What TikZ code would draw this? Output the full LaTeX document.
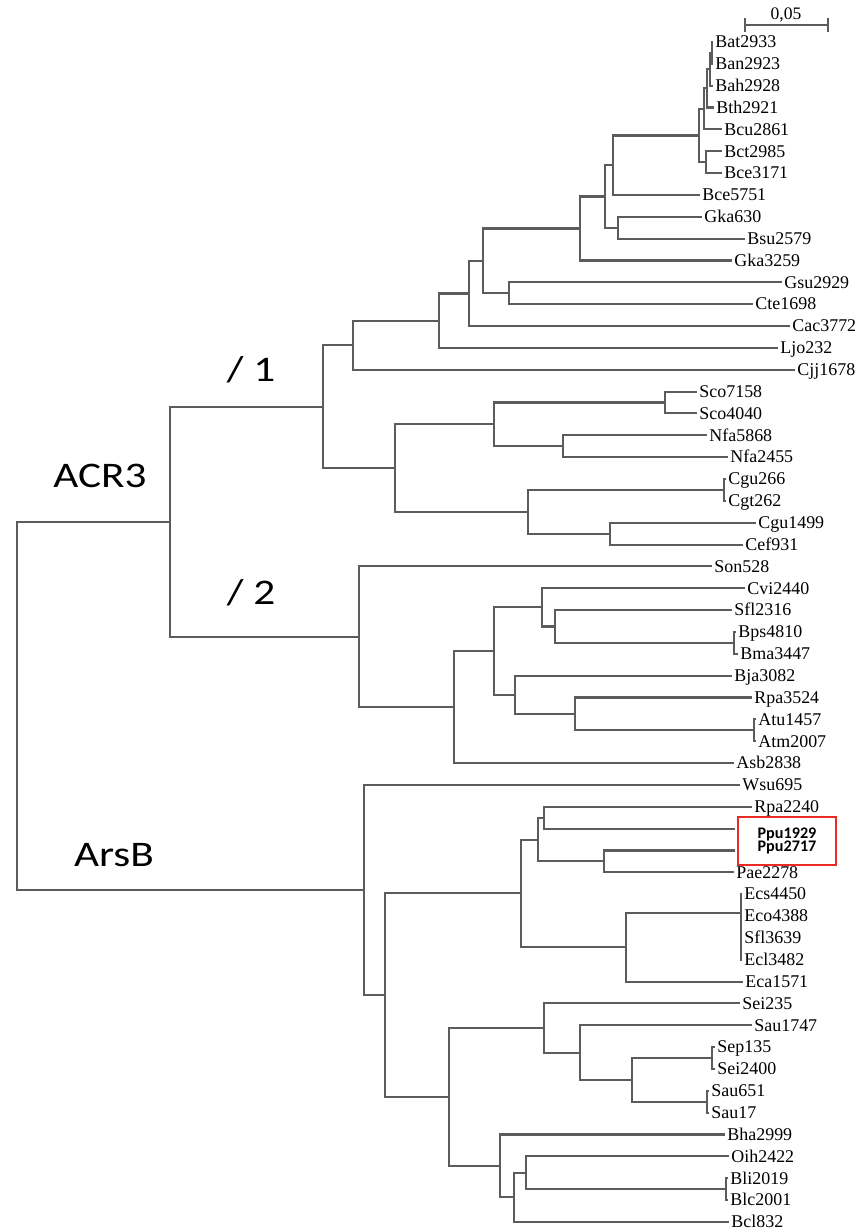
\documentclass[tikz,border=0pt]{standalone}
\usepackage{fontspec}
\setmainfont{Liberation Serif}
\newfontfamily\cladefont[FakeStretch=1.2]{Carlito}
\newfontfamily\boxfont{Carlito}
\definecolor{boxred}{RGB}{232,43,36}

\begin{document}
\begin{tikzpicture}[x=0.2mm, y=-0.2mm,
    branch/.style={draw=black!64, line width=0.42mm},
    leaf/.style={anchor=west, inner sep=1.2pt, text height=6.6pt, text depth=0pt, font=\fontsize{10.2}{12}\selectfont},
    clade/.style={anchor=base, inner sep=0pt, font=\cladefont\fontsize{20.5}{24}\selectfont}]
\useasboundingbox (0,0) rectangle (857,1229);

% scale bar
\coordinate (sbl) at (745,25);
\coordinate (sbr) at (828,25);
\draw[branch] (sbl) -- (sbr);
\draw[branch] (sbl) ++(0,-7) -- ++(0,14);
\draw[branch] (sbr) ++(0,-7) -- ++(0,14);
\node[anchor=base, font=\fontsize{10}{12}\selectfont] (sblabel) at (786,20) {0,05};

% leaves
\node[leaf] (Bat2933) at (713,42.0) {Bat2933};
\node[leaf] (Ban2923) at (713,63.85) {Ban2923};
\node[leaf] (Bah2928) at (713,85.7) {Bah2928};
\node[leaf] (Bth2921) at (714,107.55) {Bth2921};
\node[leaf] (Bcu2861) at (722,129.4) {Bcu2861};
\node[leaf] (Bct2985) at (722,151.25) {Bct2985};
\node[leaf] (Bce3171) at (722,173.1) {Bce3171};
\node[leaf] (Bce5751) at (700,194.95) {Bce5751};
\node[leaf] (Gka630) at (702,216.8) {Gka630};
\node[leaf] (Bsu2579) at (745,238.65) {Bsu2579};
\node[leaf] (Gka3259) at (732,260.5) {Gka3259};
\node[leaf] (Gsu2929) at (782,282.35) {Gsu2929};
\node[leaf] (Cte1698) at (753,304.2) {Cte1698};
\node[leaf] (Cac3772) at (790,326.05) {Cac3772};
\node[leaf] (Ljo232) at (778,347.9) {Ljo232};
\node[leaf] (Cjj1678) at (795,369.75) {Cjj1678};
\node[leaf] (Sco7158) at (697,391.6) {Sco7158};
\node[leaf] (Sco4040) at (697,413.45) {Sco4040};
\node[leaf] (Nfa5868) at (707,435.3) {Nfa5868};
\node[leaf] (Nfa2455) at (728,457.15) {Nfa2455};
\node[leaf] (Cgu266) at (726,479.0) {Cgu266};
\node[leaf] (Cgt262) at (726,500.85) {Cgt262};
\node[leaf] (Cgu1499) at (756,522.7) {Cgu1499};
\node[leaf] (Cef931) at (743,544.55) {Cef931};
\node[leaf] (Son528) at (712,566.4) {Son528};
\node[leaf] (Cvi2440) at (745,588.25) {Cvi2440};
\node[leaf] (Sfl2316) at (732,610.1) {Sfl2316};
\node[leaf] (Bps4810) at (736,631.95) {Bps4810};
\node[leaf] (Bma3447) at (738,653.8) {Bma3447};
\node[leaf] (Bja3082) at (732,675.65) {Bja3082};
\node[leaf] (Rpa3524) at (752,697.5) {Rpa3524};
\node[leaf] (Atu1457) at (756,719.35) {Atu1457};
\node[leaf] (Atm2007) at (756,741.2) {Atm2007};
\node[leaf] (Asb2838) at (734,763.05) {Asb2838};
\node[leaf] (Wsu695) at (740,784.9) {Wsu695};
\node[leaf] (Rpa2240) at (752,806.75) {Rpa2240};
\node[leaf] (Pae2278) at (734,872.3) {Pae2278};
\node[leaf] (Ecs4450) at (742,894.15) {Ecs4450};
\node[leaf] (Eco4388) at (742,916.0) {Eco4388};
\node[leaf] (Sfl3639) at (742,937.85) {Sfl3639};
\node[leaf] (Ecl3482) at (742,959.7) {Ecl3482};
\node[leaf] (Eca1571) at (743,981.55) {Eca1571};
\node[leaf] (Sei235) at (740,1003.4) {Sei235};
\node[leaf] (Sau1747) at (752,1025.25) {Sau1747};
\node[leaf] (Sep135) at (715,1047.1) {Sep135};
\node[leaf] (Sei2400) at (715,1068.95) {Sei2400};
\node[leaf] (Sau651) at (709,1090.8) {Sau651};
\node[leaf] (Sau17) at (709,1112.65) {Sau17};
\node[leaf] (Bha2999) at (725,1134.5) {Bha2999};
\node[leaf] (Oih2422) at (729,1156.35) {Oih2422};
\node[leaf] (Bli2019) at (728,1178.2) {Bli2019};
\node[leaf] (Blc2001) at (728,1200.05) {Blc2001};
\node[leaf] (Bcl832) at (729,1221.9) {Bcl832};

% the two Ppu genes, boxed
\node[draw=boxred, line width=0.45mm, minimum width=19.7mm, minimum height=9.6mm, align=center,
      font=\boxfont\bfseries\fontsize{9.2}{7.8}\selectfont] (ppu) at (787,841) {Ppu1929\\Ppu2717};
\coordinate (ppu1929) at (735,828.6);
\coordinate (ppu2717) at (735,850.45);

% inner nodes
\coordinate (bc1) at (712,52.9);
\coordinate (bc2) at (710,69.3);
\coordinate (bc3) at (707,88.4);
\coordinate (bc4) at (704,108.9);
\coordinate (bc5) at (706,162.2);
\coordinate (bc6) at (699,135.55);
\coordinate (bc7) at (613,165.25);
\coordinate (gb) at (618,227.7);
\coordinate (bc8) at (605,196.5);
\coordinate (bc9) at (580,228.5);
\coordinate (gc) at (509,293.3);
\coordinate (f1) at (483,260.9);
\coordinate (f2) at (469,293.5);
\coordinate (f3) at (439,320.7);
\coordinate (f4) at (353,345.2);
\coordinate (sco) at (665,402.5);
\coordinate (nfa) at (563,446.2);
\coordinate (act1) at (494,424.35);
\coordinate (cgu) at (724,489.9);
\coordinate (cc) at (610,533.6);
\coordinate (act2) at (528,511.75);
\coordinate (act) at (395,468.05);
\coordinate (grp1) at (323,406.6);
\coordinate (bps) at (734,642.9);
\coordinate (sfl) at (555,626.5);
\coordinate (cvi) at (542,607.4);
\coordinate (atu) at (754,730.3);
\coordinate (rpa) at (575,713.9);
\coordinate (bja) at (515,694.8);
\coordinate (pro1) at (494,651.1);
\coordinate (pro2) at (454,707.1);
\coordinate (grp2) at (359,636.75);
\coordinate (acr) at (170,521.7);
\coordinate (rp) at (544,817.7);
\coordinate (pp) at (604,861.4);
\coordinate (ps) at (538,839.55);
\coordinate (ec) at (741,913);
\coordinate (ent) at (626,947.3);
\coordinate (gam) at (521,893.4);
\coordinate (sep) at (712,1058);
\coordinate (sau) at (707,1101.7);
\coordinate (sta1) at (632,1079.85);
\coordinate (sta2) at (580,1052.55);
\coordinate (sta) at (544,1028);
\coordinate (bli) at (726,1189.1);
\coordinate (oih) at (526,1172.7);
\coordinate (bcl) at (514,1197.3);
\coordinate (bac) at (500,1165.9);
\coordinate (firm) at (449,1096.95);
\coordinate (ars1) at (385,995.2);
\coordinate (ars) at (364,890.05);
\coordinate (root) at (17,705.9);

% branches
\draw[branch] (root) |- (acr) (root) |- (ars);
\draw[branch] (acr) |- (grp1) (acr) |- (grp2);
\draw[branch] (grp1) |- (f4) (grp1) |- (act);
\draw[branch] (f4) |- (f3) (f4) |- (Cjj1678.west);
\draw[branch] (f3) |- (f2) (f3) |- (Ljo232.west);
\draw[branch] (f2) |- (f1) (f2) |- (Cac3772.west);
\draw[branch] (f1) |- (bc9) (f1) |- (gc);
\draw[branch] (gc) |- (Gsu2929.west) (gc) |- (Cte1698.west);
\draw[branch] (bc9) |- (bc8) (bc9) |- (Gka3259.west);
\draw[branch] (bc8) |- (bc7) (bc8) |- (gb);
\draw[branch] (gb) |- (Gka630.west) (gb) |- (Bsu2579.west);
\draw[branch] (bc7) |- (bc6) (bc7) |- (Bce5751.west);
\draw[branch] (bc6) |- (bc4) (bc6) |- (bc5);
\draw[branch] (bc5) |- (Bct2985.west) (bc5) |- (Bce3171.west);
\draw[branch] (bc4) |- (bc3) (bc4) |- (Bcu2861.west);
\draw[branch] (bc3) |- (bc2) (bc3) |- (Bth2921.west);
\draw[branch] (bc2) |- (bc1) (bc2) |- (Bah2928.west);
\draw[branch] (bc1) |- (Bat2933.west) (bc1) |- (Ban2923.west);
\draw[branch] (act) |- (act1) (act) |- (act2);
\draw[branch] (act1) |- (sco) (act1) |- (nfa);
\draw[branch] (sco) |- (Sco7158.west) (sco) |- (Sco4040.west);
\draw[branch] (nfa) |- (Nfa5868.west) (nfa) |- (Nfa2455.west);
\draw[branch] (act2) |- (cgu) (act2) |- (cc);
\draw[branch] (cgu) |- (Cgu266.west) (cgu) |- (Cgt262.west);
\draw[branch] (cc) |- (Cgu1499.west) (cc) |- (Cef931.west);
\draw[branch] (grp2) |- (Son528.west) (grp2) |- (pro2);
\draw[branch] (pro2) |- (pro1) (pro2) |- (Asb2838.west);
\draw[branch] (pro1) |- (cvi) (pro1) |- (bja);
\draw[branch] (cvi) |- (Cvi2440.west) (cvi) |- (sfl);
\draw[branch] (sfl) |- (Sfl2316.west) (sfl) |- (bps);
\draw[branch] (bps) |- (Bps4810.west) (bps) |- (Bma3447.west);
\draw[branch] (bja) |- (Bja3082.west) (bja) |- (rpa);
\draw[branch] (rpa) |- (Rpa3524.west) (rpa) |- (atu);
\draw[branch] (atu) |- (Atu1457.west) (atu) |- (Atm2007.west);
\draw[branch] (ars) |- (Wsu695.west) (ars) |- (ars1);
\draw[branch] (ars1) |- (gam) (ars1) |- (firm);
\draw[branch] (gam) |- (ps) (gam) |- (ent);
\draw[branch] (ps) |- (rp) (ps) |- (pp);
\draw[branch] (rp) |- (Rpa2240.west) (rp) |- (ppu1929);
\draw[branch] (pp) |- (ppu2717) (pp) |- (Pae2278.west);
\draw[branch] (ent) |- (ec) (ent) |- (Eca1571.west);
\draw[branch] (ec) |- (Ecs4450.west) (ec) |- (Eco4388.west) (ec) |- (Sfl3639.west) (ec) |- (Ecl3482.west);
\draw[branch] (firm) |- (sta) (firm) |- (bac);
\draw[branch] (sta) |- (Sei235.west) (sta) |- (sta2);
\draw[branch] (sta2) |- (Sau1747.west) (sta2) |- (sta1);
\draw[branch] (sta1) |- (sep) (sta1) |- (sau);
\draw[branch] (sep) |- (Sep135.west) (sep) |- (Sei2400.west);
\draw[branch] (sau) |- (Sau651.west) (sau) |- (Sau17.west);
\draw[branch] (bac) |- (Bha2999.west) (bac) |- (bcl);
\draw[branch] (bcl) |- (oih) (bcl) |- (Bcl832.west);
\draw[branch] (oih) |- (Oih2422.west) (oih) |- (bli);
\draw[branch] (bli) |- (Bli2019.west) (bli) |- (Blc2001.west);

% clade labels
\node[clade] (acr3) at (100,487) {ACR3};
\node[clade] (sub1) at (251,382) {/ 1};
\node[clade] (sub2) at (251,604) {/ 2};
\node[clade] (arsb) at (114,866) {ArsB};
\end{tikzpicture}
\end{document}
